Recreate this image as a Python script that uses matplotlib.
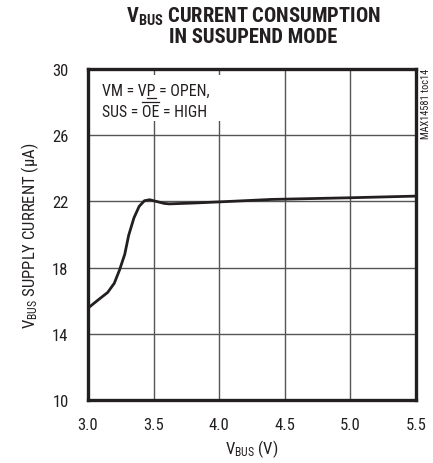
import matplotlib
matplotlib.use("Agg")
import matplotlib.pyplot as plt
from matplotlib.patches import Rectangle
from matplotlib.font_manager import fontManager

# supply current vs VBUS, suspend mode
vbus = [3.00, 3.07, 3.15, 3.20, 3.24, 3.28, 3.31, 3.35, 3.39, 3.43, 3.47,
        3.52, 3.58, 3.62, 3.80, 4.00, 4.40, 5.00, 5.50]
current = [15.55, 16.0, 16.5, 17.05, 17.85, 18.8, 19.95, 21.0, 21.7, 22.04, 22.1,
           22.0, 21.88, 21.85, 21.9, 21.97, 22.12, 22.22, 22.32]

xticks = [3.0, 3.5, 4.0, 4.5, 5.0, 5.5]
yticks = [10, 14, 18, 22, 26, 30]

names = {f.name for f in fontManager.ttflist}
cond = next((n for n in ['Roboto Condensed', 'Archivo Narrow', 'PT Sans Narrow', 'Liberation Sans']
             if n in names), 'DejaVu Sans')
plt.rcParams['font.family'] = [cond, 'DejaVu Sans']
plt.rcParams['mathtext.fontset'] = 'custom'
plt.rcParams['mathtext.rm'] = cond
plt.rcParams['mathtext.it'] = cond
plt.rcParams['mathtext.bf'] = cond + ':bold'
plt.rcParams['mathtext.default'] = 'rm'

ink = '#231f20'
W, H = 433, 464

fig = plt.figure(figsize=(W / 100, H / 100), dpi=100)
ax = fig.add_axes([88 / W, 1 - 401 / H, 328 / W, 331 / H])

ax.plot(vbus, current, color=ink, linewidth=2.0, zorder=3,
        solid_capstyle='round', solid_joinstyle='round')

ax.set_xlim(3.0, 5.5)
ax.set_ylim(10, 30)
ax.set_xticks(xticks)
ax.set_xticklabels([f'{v:.1f}' for v in xticks])
ax.set_yticks(yticks)
ax.grid(True, color='#555555', linewidth=1.0)
ax.tick_params(length=0, labelsize=12, colors=ink)
ax.tick_params(axis='x', pad=12)
ax.tick_params(axis='y', pad=14)
for s in ax.spines.values():
    s.set_linewidth(2.4)
    s.set_color(ink)
    s.set_zorder(4)

ax.set_xlabel(r'V$_{\mathrm{BUS}}$ (V)', fontsize=12, color=ink, labelpad=4)
ax.set_ylabel(r'V$_{\mathrm{BUS}}$ SUPPLY CURRENT (µA)', fontsize=12, color=ink, labelpad=8)

# condition note: white patch over the grid, two text lines, bars drawn by hand
ax.add_patch(Rectangle((90 / W, 1 - 122 / H), 136 / W, 46 / H, transform=fig.transFigure,
                       facecolor='white', edgecolor='none', zorder=2))

box_fs = 11.4
x_txt = 102
base1, base2 = 96, 117
line1 = 'VM = VP = OPEN,'
line2 = 'SUS = OE = HIGH'
for txt, base in ((line1, base1), (line2, base2)):
    fig.text(x_txt / W, 1 - base / H, txt, ha='left', va='baseline',
             fontsize=box_fs, color=ink)

r = fig.canvas.get_renderer()


def width_px(s):
    t = fig.text(0, 0, s, ha='left', va='baseline', fontsize=box_fs, alpha=0)
    w = t.get_window_extent(r).width
    t.remove()
    return w


cap_h = box_fs * 0.711 * 100 / 72

# under the P of VP
x0, x1 = x_txt + width_px('VM = V'), x_txt + width_px('VM = VP')
fig.add_artist(plt.Line2D([x0 / W, x1 / W], [1 - (base1 + 3) / H] * 2,
                          color=ink, linewidth=0.9))
# over OE
x0, x1 = x_txt + width_px('SUS = '), x_txt + width_px('SUS = OE')
fig.add_artist(plt.Line2D([x0 / W, x1 / W], [1 - (base2 - cap_h - 2.5) / H] * 2,
                          color=ink, linewidth=0.9))

fig.text(253 / W, 1 - 6 / H,
         r'V$_{\mathbf{BUS}}$ CURRENT CONSUMPTION' + '\nIN SUSUPEND MODE',
         ha='center', va='top', fontsize=14.8, fontweight='bold', color=ink,
         linespacing=0.98)

fig.text(426 / W, 1 - 69 / H, 'MAX14581 toc14', rotation=90,
         ha='center', va='top', fontsize=7.4, color=ink)

fig.savefig('out.png', dpi=100)
